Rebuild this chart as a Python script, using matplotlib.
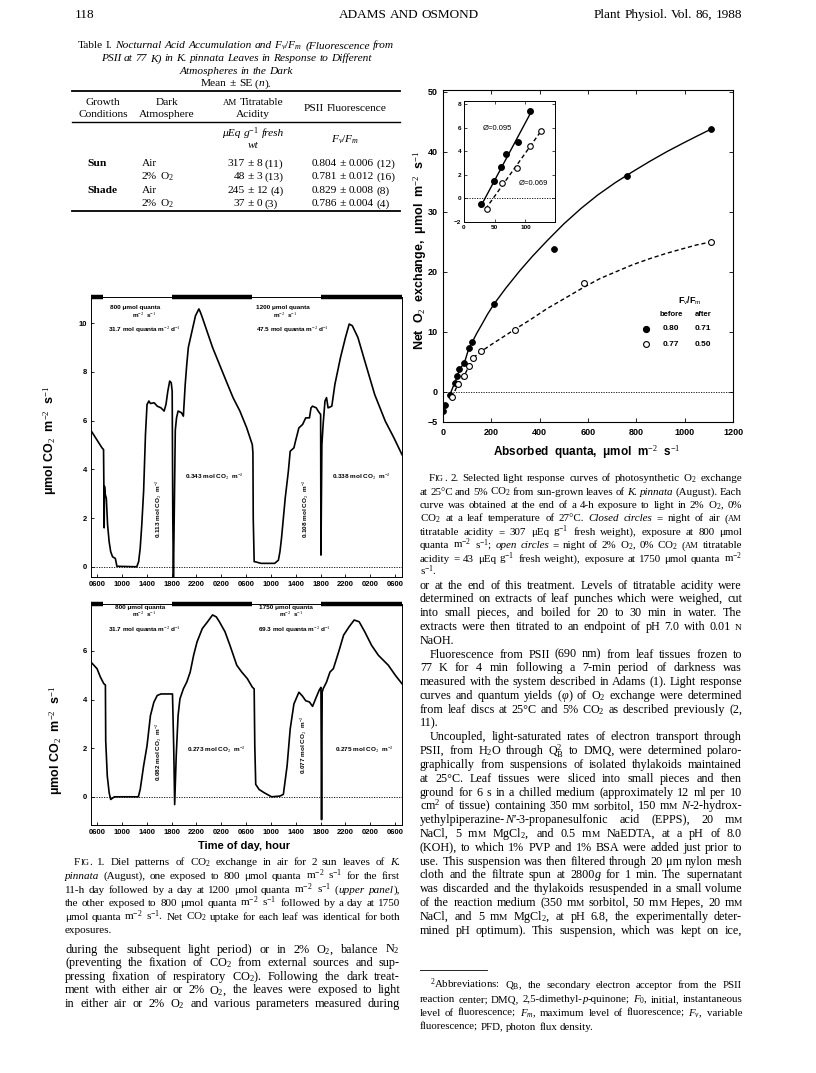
import numpy as np
import matplotlib
matplotlib.use('Agg')
import matplotlib.pyplot as plt
from matplotlib.lines import Line2D
from matplotlib.transforms import blended_transform_factory

SERIF = 'Liberation Serif'
SANS = 'Liberation Sans'
W, H = 816, 1073

# ---------------- data ----------------
# Fig. 1, hours counted from midnight of day 1; umol CO2 m-2 s-1
upper_hour = [5.1, 6.0, 6.8, 7.05, 7.1, 7.15, 7.2, 7.3, 7.5, 7.7, 7.95, 8.2, 8.5, 8.95, 9.2,
              12.4, 12.7, 12.95, 13.2, 13.5, 13.8, 14.05, 14.35, 14.6, 15.2, 15.7, 16.3, 16.8,
              17.1, 17.4, 17.7, 17.95, 18.1, 18.2, 18.3, 18.45, 18.6, 18.8, 19.05, 19.6, 19.9,
              20.2, 20.45, 20.7, 21.3, 21.85, 22.4, 22.65, 22.95, 23.5, 24.6, 25.7, 26.8, 27.9,
              29.0, 30.1, 31.0, 31.1, 31.15, 31.3, 31.55, 32.4, 34.6, 35.2, 35.45, 35.7, 36.3,
              36.8, 37.1, 37.7, 37.95, 38.5, 39.1, 39.6, 40.2, 40.45, 40.7, 41.3, 41.6, 41.8,
              42.0, 42.05, 42.2, 42.4, 42.7, 42.95, 43.2, 43.8, 44.3, 45.2, 46.0, 46.6, 47.1,
              48.0, 49.1, 50.7, 52.4, 53.8, 55.1]
upper_rate = [5.56, 5.2, 4.88, 4.81, 3.4, 1.6, 3.3, 3.0, 2.8, 1.72, 1.03, 0.62, 0.41, 0.34, 0.02,
              0.0, 0.21, 0.76, 1.7, 3.09, 5.43, 6.66, 6.8, 6.7, 6.73, 6.59, 6.52, 6.39,
              6.66, 7.21, 7.62, 7.55, 7.2, 2.0, -0.48, 2.5, 5.6, 6.11, 6.39, 6.32, 6.18,
              7.49, 8.31, 9.0, 9.68, 10.3, 10.58, 10.44, 10.23, 9.82, 9.0, 8.31, 7.62, 6.94,
              6.39, 5.7, 5.01, 4.67, 1.99, 0.21, 0.2, 0.14, 0.14, 0.27, 0.62, 1.17, 2.82,
              3.91, 4.74, 4.88, 5.15, 5.7, 5.84, 6.11, 6.11, 6.52, 6.59, 6.52, 6.39, 6.32,
              6.25, 0.48, 5.0, 5.84, 6.8, 6.94, 6.52, 6.59, 7.49, 8.59, 9.41, 9.96, 9.89,
              9.41, 8.45, 7.07, 5.98, 5.29, 4.6]
lower_hour = [5.1, 6.0, 6.55, 7.1, 7.35, 7.4, 7.65, 7.95, 8.2, 8.8, 12.65, 12.95, 13.5, 14.05,
              14.6, 15.15, 15.7, 16.3, 18.15, 18.35, 18.5, 18.75, 19.05, 19.35, 19.9, 20.45,
              21.0, 21.55, 22.1, 22.95, 23.8, 24.6, 25.2, 25.7, 26.6, 27.4, 28.5, 29.3, 30.2,
              31.0, 31.3, 31.4, 31.55, 32.1, 32.9, 34.1, 35.45, 36.0, 36.6, 37.1, 37.7, 38.5,
              39.05, 39.6, 40.2, 40.7, 41.3, 41.8, 42.05, 42.15, 42.25, 42.4, 42.95, 43.5,
              44.05, 44.9, 45.7, 46.6, 47.4, 48.2, 49.1, 50.2, 51.3, 52.9, 54.05, 55.1]
lower_rate = [5.52, 5.27, 4.92, 4.65, 4.6, 2.3, 0.86, 0.17, -0.11, 0.0, 0.0, 0.3, 1.27, 2.1,
              3.34, 3.89, 4.17, 4.23, 4.23, 2.0, -0.32, 1.68, 3.34, 4.03, 4.44, 4.72,
              5.13, 5.82, 6.37, 6.92, 7.2, 7.48, 7.4, 7.2, 6.79, 6.23, 5.41, 5.13, 4.86,
              4.51, 4.44, 2.1, 0.51, 0.3, 0.17, 0.0, 0.03, 0.1, 1.27, 2.79, 3.82, 4.3,
              4.15, 3.95, 3.9, 3.72, 4.1, 4.4, 4.5, -0.94, 4.3, 4.44, 4.72, 5.13,
              5.27, 5.96, 6.65, 7.0, 7.27, 7.2, 6.79, 6.23, 5.82, 5.41, 4.99, 4.65]
light_on = [7, 31]
light_off = [18, 42]
time_ticks = [6, 10, 14, 18, 22, 26, 30, 34, 38, 42, 46, 50, 54]
time_labels = ['0600', '1000', '1400', '1800', '2200', '0200', '0600',
               '1000', '1400', '1800', '2200', '0200', '0600']

# Fig. 2, absorbed quanta (umol m-2 s-1) vs net O2 exchange
closed_q = [0, 8, 28, 48, 60, 68, 88, 108, 122, 210, 458, 763, 1110]
closed_o2 = [-3.2, -2.2, -0.5, 1.5, 2.7, 3.8, 4.8, 7.4, 8.4, 14.6, 23.8, 36.0, 43.8]
open_q = [37, 62, 87, 108, 125, 158, 300, 585, 1110]
open_o2 = [-0.9, 1.3, 2.6, 4.4, 5.7, 6.9, 10.3, 18.1, 25.0]
closed_curve_q = [122, 140, 160, 185, 212, 260, 318, 370, 431, 500, 572, 640, 714, 785, 855,
                  925, 996, 1050, 1110]
closed_curve_o2 = [8.4, 9.8, 11.2, 13.0, 14.7, 17.3, 20.2, 22.6, 25.2, 28.0, 30.6, 32.8, 34.9,
                   36.7, 38.4, 40.0, 41.5, 42.6, 43.8]
open_curve_q = [125, 160, 200, 250, 300, 360, 431, 500, 585, 650, 714, 785, 855, 925, 996,
                1050, 1110]
open_curve_o2 = [5.7, 6.8, 7.9, 9.2, 10.5, 12.0, 13.9, 15.5, 17.5, 18.9, 20.0, 21.2, 22.2,
                 23.1, 23.9, 24.5, 25.0]
inset_closed_line_q = [27, 110]
inset_closed_line_o2 = [-0.7, 7.4]
inset_open_line_q = [35, 128]
inset_open_line_o2 = [-0.9, 5.9]
legend_before = ['0.80', '0.77']
legend_after = ['0.71', '0.50']

# Table I
growth = ['Sun', '', 'Shade', '']
atmos = ['Air', '2% O$_2$', 'Air', '2% O$_2$']
acid_mean = [317, 48, 245, 37]
acid_se = [8, 3, 12, 0]
acid_n = [11, 13, 4, 3]
fvfm_mean = ['0.804', '0.781', '0.829', '0.786']
fvfm_se = ['0.006', '0.012', '0.008', '0.004']
fvfm_n = [12, 16, 8, 4]

plt.rcParams['font.family'] = SERIF
plt.rcParams['mathtext.fontset'] = 'custom'
plt.rcParams['mathtext.rm'] = SERIF
plt.rcParams['mathtext.it'] = SERIF + ':italic'
plt.rcParams['mathtext.bf'] = SERIF + ':bold'
plt.rcParams['mathtext.sf'] = SANS

fig = plt.figure(figsize=(8.16, 10.73), dpi=100)
fig.patch.set_facecolor('white')
R = fig.canvas.get_renderer()


def fx(px):
    return px / W


def fy(py):
    return 1 - py / H


def segs(word, italic):
    out, buf, it, sc = [], '', italic, False
    for ch in word:
        if ch in '*~':
            if buf:
                out.append((buf, it, sc))
                buf = ''
            if ch == '*':
                it = not it
            else:
                sc = not sc
        else:
            buf += ch
    if buf:
        out.append((buf, it, sc))
    return out


def build(text, size, italic=False, weight='normal', family=SERIF):
    words = []
    for w in text.split():
        parts = []
        for s, it, sc in segs(w, italic):
            fs = size * 0.78 if sc else size
            t = fig.text(0, 0, s.upper() if sc else s, fontsize=fs, family=family,
                         style='italic' if it else 'normal', weight=weight,
                         ha='left', va='baseline')
            parts.append((t, t.get_window_extent(R).width))
        words.append(parts)
    return words


def line(text, x, y, size, x1=None, align='left', italic=False, weight='normal', family=SERIF):
    words = build(text, size, italic, weight, family)
    widths = [sum(w for _, w in p) for p in words]
    em = size * 100 / 72
    sp = 0.25 * em
    if x1 is not None and len(words) > 1:
        need = sum(widths) + 0.16 * em * (len(words) - 1)
        if need > x1 - x:
            # too long for the measure: set this line a touch smaller
            for p in words:
                for t, _ in p:
                    t.remove()
            return line(text, x, y, size * (x1 - x) / need * 0.995, x1, align, italic,
                        weight, family)
        sp = (x1 - x - sum(widths)) / (len(words) - 1)
    total = sum(widths) + sp * (len(words) - 1)
    if align == 'center':
        x = x - total / 2
    elif align == 'right':
        x = x - total
    base = y + 0.3 * em
    for p, wd in zip(words, widths):
        xx = x
        for t, w in p:
            t.set_position((fx(xx), fy(base)))
            xx += w
        x += wd + sp


def paragraph(lines, x0, x1, y0, step, size, indent_rows=(), last_rows=(), indent=10):
    for i, s in enumerate(lines):
        xs = x0 + (indent if i in indent_rows else 0)
        line(s, xs, y0 + i * step, size, x1=None if i in last_rows else x1)


def rule(xa, xb, y, lw):
    fig.add_artist(Line2D([fx(xa), fx(xb)], [fy(y), fy(y)], lw=lw, color='k'))


def ax_px(l, t, r, b):
    return fig.add_axes([fx(l), fy(b), (r - l) / W, (b - t) / H])


def sans_ticks(ax, size):
    for lab in ax.get_xticklabels() + ax.get_yticklabels():
        lab.set_family(SANS)
        lab.set_weight('bold')
        lab.set_fontsize(size)


# ---------------- running head ----------------
line('118', 75, 14, 9.5)
line('ADAMS AND OSMOND', 409, 14, 9.5, align='center')
line('Plant Physiol. Vol. 86, 1988', 742, 14, 9.5, align='right')

# ---------------- Table I ----------------
TS = 8.2
line('*Table* *I.* Nocturnal Acid Accumulation and $F_v/F_m$ (Fluorescence from', 236, 45, TS,
     align='center', italic=True)
line('PSII at 77 K) in K. pinnata Leaves in Response to Different', 236, 58, TS,
     align='center', italic=True)
line('Atmospheres in the Dark', 236, 71, TS, align='center', italic=True)
line('Mean ± SE (*n*).', 236, 83, TS, align='center')
rule(72, 400, 91, 1.3)
line('Growth', 103, 102, TS, align='center')
line('Conditions', 103, 114, TS, align='center')
line('Dark', 167, 102, TS, align='center')
line('Atmosphere', 167, 114, TS, align='center')
line('~AM~ Titratable', 253, 102, TS, align='center')
line('Acidity', 253, 114, TS, align='center')
line('PSII Fluorescence', 345, 108, TS, align='center')
rule(72, 400, 122, 1.0)
line('μEq g$^{-1}$ fresh', 253, 133, TS, align='center', italic=True)
line('wt', 253, 145, TS, align='center', italic=True)
line('$F_v/F_m$', 345, 139, TS, align='center')
row_y = [163, 176, 190, 203]
for i, yy in enumerate(row_y):
    if growth[i]:
        line(growth[i], 87, yy, TS, weight='bold')
    line(atmos[i], 142, yy, TS)
    line(str(acid_mean[i]), 245, yy, TS, align='right')
    line('± %d (%d)' % (acid_se[i], acid_n[i]), 247, yy, TS)
    line(fvfm_mean[i], 337, yy, TS, align='right')
    line('± %s (%d)' % (fvfm_se[i], fvfm_n[i]), 339, yy, TS)
rule(72, 400, 211, 1.3)

# ---------------- Fig. 1 ----------------
panels = [
    dict(top=297, bot=577, hour=upper_hour, rate=upper_rate, ylim=(-0.42, 11.07),
         yt=[0, 2, 4, 6, 8, 10]),
    dict(top=604, bot=825, hour=lower_hour, rate=lower_rate, ylim=(-1.16, 7.93),
         yt=[0, 2, 4, 6]),
]
for p in panels:
    ax = ax_px(91, p['top'], 402, p['bot'])
    ax.plot(p['hour'], p['rate'], color='k', lw=1.2)
    ax.axhline(0, color='k', lw=0.6, ls=(0, (1.5, 1.5)))
    ax.set_xlim(5.03, 55.1)
    ax.set_ylim(*p['ylim'])
    ax.set_xticks(time_ticks)
    ax.set_xticklabels(time_labels)
    ax.set_yticks(p['yt'])
    ax.tick_params(direction='in', length=2.5, width=0.6, pad=3)
    sans_ticks(ax, 5.5)
    for s in ax.spines.values():
        s.set_linewidth(0.7)
    tr = blended_transform_factory(ax.transData, ax.transAxes)
    for a, b in zip([5.03] + light_off, light_on + [55.1]):
        ax.plot([a, b], [1, 1], transform=tr, color='k', lw=3.2,
                solid_capstyle='butt', clip_on=False)

ann = dict(fontsize=4.6, family=SANS, weight='bold', ha='center', va='center')
flat_notes = [(135, 307, '800 μmol quanta'), (144, 315, 'm$^{-2}$  s$^{-1}$'),
              (144, 330, '31.7 mol quanta m$^{-2}$ d$^{-1}$'),
              (283, 307, '1200 μmol quanta'), (285, 315, 'm$^{-2}$  s$^{-1}$'),
              (292, 330, '47.5 mol quanta m$^{-2}$ d$^{-1}$'),
              (214, 477, '0.343 mol CO$_2$  m$^{-2}$'), (361, 477, '0.338 mol CO$_2$  m$^{-2}$'),
              (140, 607, '800 μmol quanta'), (144, 614, 'm$^{-2}$  s$^{-1}$'),
              (144, 630, '31.7 mol quanta m$^{-2}$ d$^{-1}$'),
              (286, 607, '1750 μmol quanta'), (291, 614, 'm$^{-2}$  s$^{-1}$'),
              (294, 630, '69.3 mol quanta m$^{-2}$ d$^{-1}$'),
              (216, 750, '0.273 mol CO$_2$  m$^{-2}$'), (364, 750, '0.275 mol CO$_2$  m$^{-2}$')]
for xx, yy, s in flat_notes:
    fig.text(fx(xx), fy(yy), s, **ann)
vert_notes = [(159, 509, '0.113 mol CO$_2$  m$^{-2}$'), (306, 509, '0.108 mol CO$_2$  m$^{-2}$'),
              (159, 752, '0.082 mol CO$_2$  m$^{-2}$'), (304, 745, '0.077 mol CO$_2$  m$^{-2}$')]
for xx, yy, s in vert_notes:
    fig.text(fx(xx), fy(yy), s, rotation=90, **ann)

for yy, xx in [(440, 50), (740, 56)]:
    fig.text(fx(xx), fy(yy), 'μmol CO$_2$  m$^{-2}$  s$^{-1}$', rotation=90, ha='center',
             va='center', family=SANS, weight='bold', fontsize=9)
fig.text(fx(244), fy(846), 'Time of day, hour', ha='center', va='center',
         family=SANS, weight='bold', fontsize=8)

cap1 = [
    'F~IG~. 1. Diel patterns of CO$_2$ exchange in air for 2 sun leaves of *K.*',
    '*pinnata* (August), one exposed to 800 μmol quanta m$^{-2}$ s$^{-1}$ for the first',
    '11-h day followed by a day at 1200 μmol quanta m$^{-2}$ s$^{-1}$ (*upper* *panel*),',
    'the other exposed to 800 μmol quanta m$^{-2}$ s$^{-1}$ followed by a day at 1750',
    'μmol quanta m$^{-2}$ s$^{-1}$. Net CO$_2$ uptake for each leaf was identical for both',
    'exposures.',
]
paragraph(cap1, 65, 400, 862, 13.6, 8.0, indent_rows=(0,), last_rows=(5,), indent=9)

body_left = [
    'during the subsequent light period) or in 2% O$_2$, balance N$_2$',
    '(preventing the fixation of CO$_2$ from external sources and sup-',
    'pressing fixation of respiratory CO$_2$). Following the dark treat-',
    'ment with either air or 2% O$_2$, the leaves were exposed to light',
    'in either air or 2% O$_2$ and various parameters measured during',
]
paragraph(body_left, 65, 400, 949, 13.6, 8.8)

# ---------------- Fig. 2 ----------------
ax2 = ax_px(443, 90, 733, 422)
ax2.plot(closed_curve_q, closed_curve_o2, color='k', lw=1.0)
ax2.plot(closed_q[2:9], closed_o2[2:9], color='k', lw=1.0)
ax2.plot(open_curve_q, open_curve_o2, color='k', lw=1.0, ls=(0, (3, 2)))
ax2.plot(open_q[:5], open_o2[:5], color='k', lw=1.0, ls=(0, (3, 2)))
ax2.plot(closed_q, closed_o2, 'o', ms=4.2, mfc='k', mec='k', mew=0.6)
ax2.plot(open_q, open_o2, 'o', ms=4.2, mfc='white', mec='k', mew=0.8)
ax2.axhline(0, color='k', lw=0.6, ls=(0, (1.5, 1.5)))
ax2.set_xlim(0, 1200)
ax2.set_ylim(-5, 50.3)
ax2.set_xticks([0, 200, 400, 600, 800, 1000, 1200])
ax2.set_yticks([-5, 0, 10, 20, 30, 40, 50])
ax2.tick_params(direction='in', length=3, width=0.6, pad=4, top=True, right=True)
sans_ticks(ax2, 6.5)
for s in ax2.spines.values():
    s.set_linewidth(0.8)

ax2.plot([0.70], [0.280], 'o', ms=4.2, mfc='k', mec='k', transform=ax2.transAxes)
ax2.plot([0.70], [0.235], 'o', ms=4.2, mfc='white', mec='k', mew=0.8, transform=ax2.transAxes)
leg = dict(family=SANS, weight='bold', ha='center', va='center')
fig.text(fx(690), fy(301), 'F$_\\mathsf{v}$/F$_\\mathsf{m}$', fontsize=6.5, **leg)
fig.text(fx(671), fy(314), 'before', fontsize=5.5, **leg)
fig.text(fx(703), fy(314), 'after', fontsize=5.5, **leg)
for k, yy in enumerate([329, 344]):
    fig.text(fx(671), fy(yy), legend_before[k], fontsize=6, **leg)
    fig.text(fx(703), fy(yy), legend_after[k], fontsize=6, **leg)

ax3 = ax_px(464, 101, 555, 222)
ax3.plot(inset_closed_line_q, inset_closed_line_o2, color='k', lw=1.0)
ax3.plot(inset_open_line_q, inset_open_line_o2, color='k', lw=1.0, ls=(0, (3, 2)))
ax3.plot(closed_q[2:8], closed_o2[2:8], 'o', ms=4.0, mfc='k', mec='k')
ax3.plot(open_q[:5], open_o2[:5], 'o', ms=4.0, mfc='white', mec='k', mew=0.8)
ax3.axhline(0, color='k', lw=0.6, ls=(0, (1.5, 1.5)))
ax3.set_xlim(0, 148)
ax3.set_ylim(-2, 8.25)
ax3.set_xticks([0, 50, 100])
ax3.set_yticks([-2, 0, 2, 4, 6, 8])
ax3.tick_params(direction='in', length=2, width=0.5, pad=2, top=True, right=True)
sans_ticks(ax3, 4.6)
for s in ax3.spines.values():
    s.set_linewidth(0.7)
ax3.text(55, 5.9, 'Ø=0.095', fontsize=5.5, family=SANS, ha='center', va='center')
ax3.text(113, 1.3, 'Ø=0.069', fontsize=5.5, family=SANS, ha='center', va='center')

fig.text(fx(420), fy(250), 'Net  O$_2$  exchange,  μmol  m$^{-2}$  s$^{-1}$', rotation=90,
         ha='center', va='center', family=SANS, weight='bold', fontsize=9)
fig.text(fx(587), fy(452), 'Absorbed  quanta,  μmol  m$^{-2}$  s$^{-1}$', ha='center',
         va='center', family=SANS, weight='bold', fontsize=8.5)

cap2 = [
    'F~IG~. 2. Selected light response curves of photosynthetic O$_2$ exchange',
    'at 25°C and 5% CO$_2$ from sun-grown leaves of *K.* *pinnata* (August). Each',
    'curve was obtained at the end of a 4-h exposure to light in 2% O$_2$, 0%',
    'CO$_2$ at a leaf temperature of 27°C. *Closed* *circles* = night of air (~AM~',
    'titratable acidity = 307 μEq g$^{-1}$ fresh weight), exposure at 800 μmol',
    'quanta m$^{-2}$ s$^{-1}$; *open* *circles* = night of 2% O$_2$, 0% CO$_2$ (~AM~ titratable',
    'acidity = 43 μEq g$^{-1}$ fresh weight), exposure at 1750 μmol quanta m$^{-2}$',
    's$^{-1}$.',
]
paragraph(cap2, 420, 742, 478, 13.4, 7.9, indent_rows=(0,), last_rows=(7,), indent=9)

body_right = [
    'or at the end of this treatment. Levels of titratable acidity were',
    'determined on extracts of leaf punches which were weighed, cut',
    'into small pieces, and boiled for 20 to 30 min in water. The',
    'extracts were then titrated to an endpoint of pH 7.0 with 0.01 ~N~',
    'NaOH.',
    'Fluorescence from PSII (690 nm) from leaf tissues frozen to',
    '77 K for 4 min following a 7-min period of darkness was',
    'measured with the system described in Adams (1). Light response',
    'curves and quantum yields (*φ*) of O$_2$ exchange were determined',
    'from leaf discs at 25°C and 5% CO$_2$ as described previously (2,',
    '11).',
    'Uncoupled, light-saturated rates of electron transport through',
    'PSII, from H$_2$O through Q$_{\\mathrm{B}}^{2}$ to DMQ, were determined polaro-',
    'graphically from suspensions of isolated thylakoids maintained',
    'at 25°C. Leaf tissues were sliced into small pieces and then',
    'ground for 6 s in a chilled medium (approximately 12 ml per 10',
    'cm$^2$ of tissue) containing 350 m~m~ sorbitol, 150 m~m~ *N*-2-hydrox-',
    "yethylpiperazine-*N'*-3-propanesulfonic acid (EPPS), 20 m~m~",
    'NaCl, 5 m~m~ MgCl$_2$, and 0.5 m~m~ NaEDTA, at a pH of 8.0',
    '(KOH), to which 1% PVP and 1% BSA were added just prior to',
    'use. This suspension was then filtered through 20 μm nylon mesh',
    'cloth and the filtrate spun at 2800*g* for 1 min. The supernatant',
    'was discarded and the thylakoids resuspended in a small volume',
    'of the reaction medium (350 m~m~ sorbitol, 50 m~m~ Hepes, 20 m~m~',
    'NaCl, and 5 m~m~ MgCl$_2$, at pH 6.8, the experimentally deter-',
    'mined pH optimum). This suspension, which was kept on ice,',
]
paragraph(body_right, 420, 742, 585, 13.8, 8.7, indent_rows=(5, 11), last_rows=(4, 10),
          indent=10)

rule(420, 487, 970, 0.6)
foot = [
    '$^2$Abbreviations: Q$_{\\mathrm{B}}$, the secondary electron acceptor from the PSII',
    'reaction center; DMQ, 2,5-dimethyl-*p*-quinone; $F_0$, initial, instantaneous',
    'level of fluorescence; $F_m$, maximum level of fluorescence; $F_v$, variable',
    'fluorescence; PFD, photon flux density.',
]
paragraph(foot, 420, 742, 985, 13.8, 7.8, indent_rows=(0,), last_rows=(3,), indent=10)

fig.savefig('out.png', dpi=100, facecolor='white')
